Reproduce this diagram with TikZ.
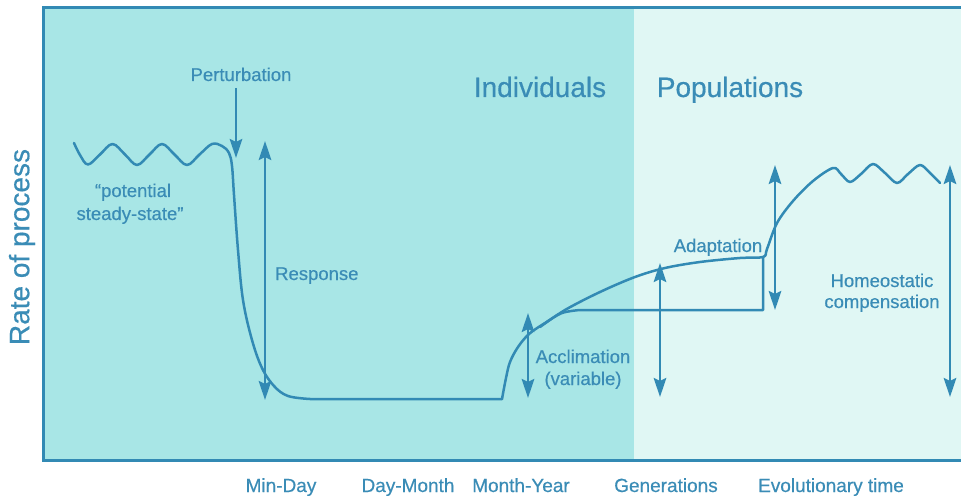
\documentclass[tikz,border=0pt]{standalone}
\usepackage{fontspec}
\setmainfont{Liberation Sans}[UprightFeatures={FakeBold=0.5}]
\usetikzlibrary{arrows.meta}
\definecolor{darkbg}{RGB}{168,230,230}
\definecolor{lightbg}{RGB}{224,247,244}
\definecolor{ink}{RGB}{50,138,180}
\definecolor{txt}{RGB}{58,140,182}
\tikzset{
  curve/.style={draw=ink, line width=2.5pt, line join=round, line cap=round},
  tip/.tip={Stealth[length=19pt,width=12.5pt,inset=3pt]},
  dbl/.style={draw=ink, line width=2.6pt, tip-tip},
  sgl/.style={draw=ink, line width=2.6pt, -tip},
  lbl/.style={text=txt, font=\fontsize{18.5}{22}\selectfont, inner sep=0pt, anchor=base},
  big/.style={text=txt, font=\fontsize{28}{32}\selectfont, inner sep=0pt, anchor=base},
  axl/.style={text=txt, font=\fontsize{19}{22}\selectfont, inner sep=0pt, anchor=base},
}
\begin{document}
\begin{tikzpicture}[x=1pt,y=-1pt]
\useasboundingbox (0,0) rectangle (961,497);
\fill[white] (0,0) rectangle (961,497);
% panels
\fill[darkbg] (43,8) rectangle (634,460);
\fill[lightbg] (634,8) rectangle (961,460);
\draw[ink, line width=3pt] (961,8) -- (43,8) -- (43,460) -- (961,460);
% main curve
\draw[curve] plot[smooth, tension=0.6] coordinates {(74,143) (80,155) (88,164.5) (100,154.5) (112.5,144) (125,154.5) (137,165) (149.5,154.5) (162,144) (174.5,154.5) (187,165) (199.5,154.5) (212,144) (222,146) (229,153) (232,166) (234,195) (238,250) (243,300) (252,340) (262,368) (274,386) (288,396) (310,399)} -- (502,399);
\draw[curve] plot[smooth, tension=0.55] coordinates {(502,399) (506,378) (510,362) (518,347) (529,334) (545,323) (562,313) (580,310)} -- (763,310) -- (763,257);
\draw[curve] plot[smooth, tension=0.55] coordinates {(540,327) (565,310) (600,292) (635,277) (665,268) (700,262) (740,258) (763,257) (767,249) (777,223) (793,201) (813,181) (833,168) (841,174) (850,182) (861,174) (873,164) (885,173) (897,183) (908,174) (920,165) (930,173) (940,183)};
% arrows
\coordinate (pt) at (236,88);  \coordinate (pb) at (236,158);
\coordinate (rt) at (265,141); \coordinate (rb) at (265,400);
\coordinate (at) at (528,313); \coordinate (ab) at (528,398);
\coordinate (gt) at (660,263); \coordinate (gb) at (660,397);
\coordinate (dt) at (775,165); \coordinate (db) at (775,310);
\coordinate (ht) at (950,165); \coordinate (hb) at (950,397);
\draw[sgl] (pt) -- (pb);
\draw[dbl] (rt) -- (rb);
\draw[dbl] (at) -- (ab);
\draw[dbl] (gt) -- (gb);
\draw[dbl] (dt) -- (db);
\draw[dbl] (ht) -- (hb);
% labels
\node[lbl] (pert) at (241,81) {Perturbation};
\node[lbl] (pss1) at (133,197) {``potential};
\node[lbl] (pss2) at (130,220) {steady-state''};
\node[lbl, anchor=base west] (resp) at (275,280) {Response};
\node[big] (ind) at (540,97) {Individuals};
\node[big] (pop) at (730,97) {Populations};
\node[lbl] (accl1) at (583,363) {Acclimation};
\node[lbl] (accl2) at (583,385) {(variable)};
\node[lbl] (adap) at (718,252) {Adaptation};
\node[lbl] (home1) at (882,287) {Homeostatic};
\node[lbl] (home2) at (882,308) {compensation};
\node[big, rotate=90, anchor=center] (rate) at (22,247) {Rate of process};
\node[axl] (x1) at (281,492) {Min-Day};
\node[axl] (x2) at (408,492) {Day-Month};
\node[axl] (x3) at (521,492) {Month-Year};
\node[axl] (x4) at (666,492) {Generations};
\node[axl] (x5) at (831,492) {Evolutionary time};
\end{tikzpicture}
\end{document}
